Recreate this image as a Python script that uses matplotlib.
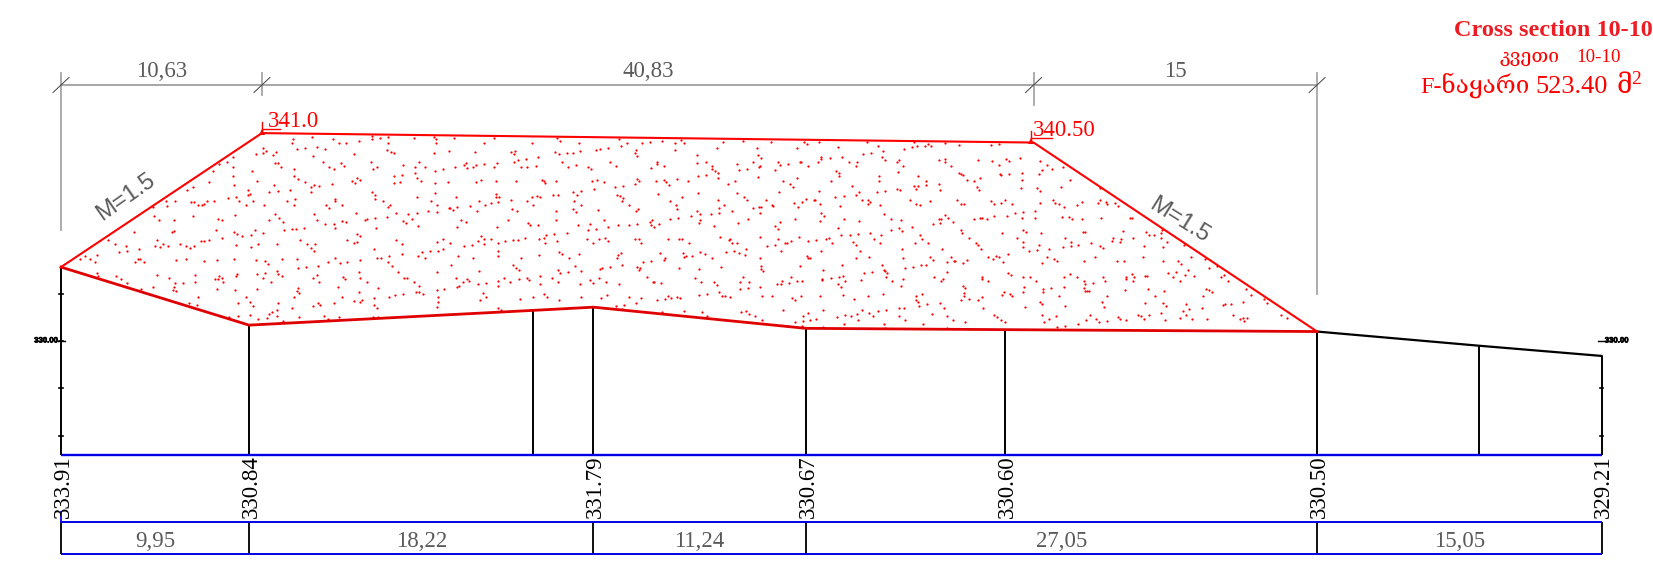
#!/usr/bin/env python3
import numpy as np
import matplotlib
matplotlib.use("Agg")
import matplotlib.pyplot as plt
import matplotlib.patheffects as pe
from matplotlib.transforms import Affine2D

SERIF = ["Liberation Serif", "DejaVu Serif", "DejaVu Sans"]

# chainage (m) and elevation (m) of the ground
ground_x = [0, 9.95, 24.97, 28.17, 39.41, 49.97, 66.46, 75.03, 81.51]
ground_y = [333.91, 330.84, 331.62, 331.79, 330.67, 330.60, 330.50, 329.75, 329.21]
# embankment top
fill_x = [0, 10.63, 51.46, 66.46]
fill_y = [333.91, 341.0, 340.5, 330.5]
# table
station_x = [0, 9.95, 28.17, 39.41, 49.97, 66.46, 81.51]
station_labels = ["333.91", "330.84", "331.79", "330.67", "330.60", "330.50", "329.21"]
table_x = [0, 9.95, 28.17, 39.41, 66.46, 81.51]
table_labels = ["9,95", "18,22", "11,24", "27,05", "15,05"]
dim_x = [0, 10.63, 51.46, 66.46]
dim_labels = ["10,63", "40,83", "15"]
scale_ticks = [332.5, 330, 327.5, 325]

# stipple dots, as (x, y) pairs in 3x crops
dots_left = [879,298, 935,290, 1000,297, 1017,310, 1038,308, 1077,302, 1116,288, 1117,298, 1140,293, 1163,291, 1163,308, 1243,294, 1301,290, 1307,298, 1307,310, 875,310, 891,326, 914,323, 952,320, 976,327,
    790,324, 797,333, 789,340, 828,336, 819,346, 767,343, 938,347, 1063,342, 1160,329, 1172,336, 1183,340, 1301,340, 700,350, 682,367, 658,372, 700,380, 640,392, 757,393, 700,408, 627,425, 578,440, 561,449,
    825,368, 835,368, 844,380, 968,367, 988,380, 1003,386, 1022,368, 1032,378, 1112,367, 1118,388, 1132,380, 1210,374, 1256,367, 1245,380, 1275,380, 1244,398, 1304,393, 881,388, 883,408, 893,417, 914,425, 1181,408, 1205,405, 1183,428, 1200,426, 1252,414, 1263,424, 1304,428, 1056,424, 1064,430, 1072,413, 1081,420, 772,424, 995,432, 932,440, 942,435, 958,437, 932,455, 702,436, 745,450, 750,462, 744,464, 823,434, 833,454, 808,457, 871,450,
    1115,455, 1124,465, 1125,477, 1250,472, 1304,460, 1293,483, 1312,494, 684,473, 709,470, 718,484, 739,496, 760,483, 793,495, 862,484, 885,478, 882,495, 1006,476, 1006,484, 1026,495, 977,495, 987,504, 1148,483, 1169,495, 1163,500,
    498,483, 643,482, 622,482, 573,485, 583,487, 595,495, 607,495, 613,491, 459,501, 500,497, 526,484,
    1285,513, 1312,517, 1189,518, 1225,521, 1250,519, 705,524, 825,522, 941,521, 1068,519, 1125,535, 1162,530, 579,528, 462,528, 477,540, 521,541, 655,536, 665,541, 808,541, 838,535, 848,546, 950,541, 975,553, 1003,552, 1027,543, 1037,546, 1096,539, 1102,537, 1210,543, 1219,550, 1237,536, 1253,559,
    1127,565, 875,566, 888,567, 913,563, 852,570, 647,570, 522,572, 517,576, 401,576, 702,577, 712,583, 727,587, 764,571, 753,584, 789,579, 1005,565, 1042,599, 1072,582, 1080,588, 1062,610, 1072,606,
    666,595, 626,600, 612,602, 603,603, 470,600, 466,617, 479,620, 490,613, 504,617, 541,611, 559,617, 570,624, 583,617, 325,600, 344,612, 379,617, 380,632, 356,636, 418,628, 708,614, 775,611, 752,622, 830,612, 900,600, 921,612, 945,612, 933,623, 942,632, 1188,599, 1205,611, 1310,605, 1313,632, 1121,627, 1290,632, 1265,635, 1253,649, 1275,655, 1205,643, 1168,648, 1130,655, 1142,654, 1006,654, 984,666, 1020,668, 1042,665, 1080,660,
    255,649, 292,646, 270,656, 285,665, 240,656, 421,656, 413,658, 432,666, 405,665, 528,660, 558,657, 611,662, 650,660, 702,657, 767,660, 795,663, 805,673, 846,657, 891,656, 895,683, 919,682, 955,677, 1165,665, 1175,678, 1195,696, 1310,695,
    771,701, 795,699, 830,692, 833,703, 845,708, 790,714, 813,727, 711,703, 707,708, 667,715, 658,708, 670,725, 654,718, 646,717, 585,706, 585,725, 470,705, 290,700, 295,708, 348,708, 362,716, 382,728, 507,715, 525,730, 548,730, 521,742, 520,750, 527,752, 938,714, 952,704, 957,727, 1028,710, 1036,718, 1076,696, 1080,714, 1100,727, 1212,714, 1222,714, 1243,727, 1256,738, 1248,757, 1258,757, 1270,763,
    459,742, 422,747, 652,747, 706,749, 770,748, 1015,742, 1134,744, 1310,749, 895,744, 890,752, 898,760, 883,771, 595,772, 739,772, 750,785, 760,798, 1077,755, 1027,770, 1123,773, 1168,771, 1186,766, 1209,762, 1313,772, 1315,785, 1063,782, 1080,785, 1085,779, 1123,795, 1131,803, 1310,800, 567,789, 590,796, 714,790, 835,790, 875,805, 938,797, 954,790, 961,795, 1001,788, 832,810, 815,815, 808,822, 750,824, 715,827, 688,832, 773,836, 800,835, 831,828, 849,842, 897,832, 972,828, 985,837, 1017,830, 1118,830, 1134,831]

dots_mid_a = [43,38, 131,54, 163,38, 275,54, 351,40, 359,47, 418,54, 538,43, 543,63, 562,53, 606,55, 630,51, 667,47, 705,53, 722,45, 731,53,
    28,78, 105,81, 212,80, 226,79, 221,87, 344,80, 358,87, 382,85, 400,84, 419,79, 468,76, 481,71, 505,68, 589,74, 584,85, 592,93, 706,75,
    295,96, 258,101, 233,104, 223,112, 79,113, 73,120, 46,127, 82,128, 99,125, 109,120, 133,117, 171,113, 163,127, 242,125, 261,125, 288,123, 366,112, 385,125, 409,121, 445,126, 454,133, 509,111, 527,122, 652,111, 651,118, 673,123, 632,129, 10,133,
    25,170, 108,170, 122,165, 169,169, 229,169, 307,166, 311,169, 315,174, 347,169, 456,168, 471,165, 493,171, 524,185, 548,182, 591,163, 598,168, 586,177, 648,168, 672,165, 679,171, 687,180, 710,161, 743,168, 461,193,
    48,215, 168,207, 167,216, 177,215, 214,226, 260,228, 277,217, 291,212, 300,215, 338,210, 355,211, 400,201, 411,210, 424,198, 403,227, 530,211, 540,213, 548,219, 547,227, 654,207, 727,216, 116,228, 152,234, 175,231, 690,227,
    29,248, 28,250, 38,255, 52,247, 89,242, 135,240, 111,259, 217,251, 232,258, 279,240, 423,240, 400,253, 409,261, 474,254, 566,239, 594,252, 588,258, 709,240, 712,253, 349,258,
    62,285, 78,292, 51,305, 170,305, 205,285, 263,294, 271,301, 294,300, 349,284, 415,299, 450,297, 443,315, 467,312, 493,285, 504,307, 533,300, 566,299, 591,296, 629,291, 636,284, 634,299, 643,307, 657,296, 691,283, 715,280, 752,274,
    124,334, 114,348, 133,342, 132,356, 154,343, 173,355, 195,348, 219,345, 235,346, 256,340, 297,343, 311,338, 319,331, 342,328, 352,347, 316,355, 380,323, 10,343, 29,355, 71,364, 95,361, 8,372, 440,342, 477,342, 460,354, 496,340, 505,348, 584,342, 598,341, 604,355, 683,343, 716,342, 727,342, 747,354,
    173,379, 173,394, 55,393, 100,400, 297,390, 243,400, 357,380, 365,387, 386,400, 417,388, 535,389, 544,384, 530,399, 659,384, 728,385, 737,393, 733,396, 757,393, 674,399, 671,404, 609,412, 633,409,
    34,419, 117,437, 219,420, 227,428, 238,435, 355,435, 361,445, 385,442, 406,424, 423,437, 479,432, 485,429, 509,425, 547,421, 590,426, 601,429, 598,434, 718,430,
    47,459, 80,461, 68,470, 88,468, 57,482, 50,486, 113,478, 137,475, 175,469, 175,483, 191,459, 211,471, 238,462, 261,459, 268,465, 299,453, 300,478, 335,458, 354,470, 421,477, 451,466, 460,474, 478,458, 497,470, 538,477, 621,457, 638,470, 641,470, 662,473, 13,491,
    129,505, 137,516, 119,525, 241,523, 280,516, 313,507, 321,515, 358,524, 424,516, 482,520, 500,510, 567,515, 603,518, 651,526, 676,522, 685,513, 693,520, 710,515, 721,519,
    175,548, 183,555, 528,543, 551,540, 589,534, 546,552, 665,562, 733,557]

dots_mid_b = [84,52, 144,48, 227,52, 328,50, 337,58, 371,52, 515,52, 429,65, 549,63, 564,78, 628,71, 652,67, 667,64, 689,62, 700,56, 709,64, 658,50, 751,54, 67,70, 187,69, 305,69,
    6,90, 190,91, 199,99, 377,95, 379,103, 404,100, 441,96, 503,87, 527,84, 562,97, 570,104, 605,110, 612,106, 733,105, 749,101, 749,110,
    7,115, 32,111, 51,123, 52,132, 61,139, 69,144, 125,117, 131,136, 155,132, 175,111, 194,124, 192,127, 249,112, 255,120, 280,117, 316,111, 319,111, 338,123, 369,111, 462,110, 487,111, 482,123, 625,123, 769,122, 239,135,
    8,153, 32,150, 69,159, 189,157, 307,158, 423,138, 432,145, 432,154, 552,153, 610,141, 670,153,
    100,176, 121,168, 265,168, 284,177, 293,186, 408,168, 472,182, 551,167, 694,167, 694,181, 656,183, 669,184, 664,191, 731,176, 736,194, 607,192, 614,195,
    10,204, 127,205, 146,217, 155,226, 69,226, 88,239, 72,248, 212,226, 252,201, 298,234, 322,230, 334,223, 356,225, 359,225, 373,199, 375,238, 310,247, 232,239, 235,242, 193,246, 198,246, 174,250, 421,216, 446,213, 435,243, 483,209, 491,200, 500,226, 518,224, 526,231, 519,238, 547,201, 571,198, 555,241, 644,225, 662,238, 674,241, 705,228,
    7,258, 16,267, 49,266, 73,263, 111,258, 194,263, 379,264, 388,272, 566,268,
    14,284, 13,294, 56,302, 130,294, 158,283, 255,290, 241,304, 249,313, 301,283, 376,288, 446,283, 493,288, 589,282, 618,285, 650,306, 713,298, 733,282, 739,282, 736,295, 759,278, 751,270, 774,290, 428,309, 589,315, 612,310, 620,318,
    74,337, 102,345, 106,342, 110,353, 125,354, 195,336, 250,342, 216,363, 241,360, 269,354, 277,355, 289,349, 313,336, 340,348, 364,344, 393,342, 402,339, 412,354, 438,331, 464,330, 488,327, 526,323, 536,341, 559,330, 473,351, 482,359, 556,353, 676,330, 680,341, 661,355, 700,353,
    15,382, 29,388, 92,380, 116,377, 133,383, 154,372, 151,390, 258,379, 379,377, 335,392, 339,398, 344,398, 52,399, 195,398, 496,378, 482,398, 522,395, 620,373, 625,398, 742,372, 706,396, 715,405, 755,411, 769,397, 778,408,
    12,431, 77,426, 198,424, 197,432, 205,439, 316,424, 384,436, 440,420, 561,419, 568,436, 570,438, 576,445, 507,444, 531,441, 631,428, 655,425, 679,420, 692,420, 755,441,
    0,458, 18,471, 58,472, 67,480, 143,457, 136,472, 163,470, 287,457, 260,467, 245,476, 259,477, 283,474, 307,469, 320,469, 382,461, 381,466, 407,458, 431,457, 444,453, 450,469, 430,478, 438,486, 499,466, 574,457, 592,468, 623,462, 617,482, 718,456, 745,461, 737,468,
    134,493, 158,490, 196,486, 72,502, 11,510, 35,507, 81,514, 89,514, 106,517, 201,513, 232,514, 291,518, 299,526, 319,513, 376,514, 443,509, 478,522, 520,514, 564,507, 662,513, 682,508, 662,524, 670,531, 697,538, 673,542, 734,534,
    21,560, 37,573, 139,560, 152,559, 161,566, 181,573, 200,585, 264,556, 340,563, 324,573, 325,588, 344,585, 362,582, 301,591, 384,554, 425,575, 449,571, 467,572, 487,566, 502,555, 523,564, 533,573, 550,558, 574,555, 611,550, 626,550, 611,572, 631,584, 488,585, 446,598, 567,596, 685,597, 712,568, 747,549, 755,572, 774,584, 322,603, 385,605, 571,609, 757,609]

dots_right = [26,284, 122,284, 148,282, 85,330, 127,334, 168,326, 176,334, 210,325, 147,346, 270,334, 290,346, 305,356, 275,360, 268,372, 28,368, 38,375, 32,373, 52,389, 73,392, 91,384, 151,372, 153,376, 177,373, 215,370, 217,390, 213,413, 80,410, 88,419, 262,413, 270,422, 338,352, 361,391, 333,412, 450,415,
    22,450, 33,462, 41,462, 123,454, 131,461, 153,460, 164,451, 185,462, 270,460, 308,450, 315,460, 327,461, 343,470, 380,465, 395,456, 443,458, 451,449, 468,455, 471,462, 495,460, 505,467, 256,482, 219,486, 195,490, 254,505, 217,505,
    72,506, 90,505, 95,503, 110,506, 133,497, 172,497, 336,501, 356,500, 366,508, 397,506, 453,503, 541,505, 545,503,
    34,540, 36,550, 157,548, 218,540, 227,547, 273,550, 58,564, 78,578, 84,585, 94,596, 201,565, 220,577, 218,592, 266,585, 237,604, 262,600, 298,596, 340,590, 345,565, 363,577, 385,585, 362,587, 423,578, 400,545, 405,545, 451,587, 460,595, 487,573, 490,565, 509,576, 512,567, 520,544, 548,563, 589,545, 598,555, 611,555, 637,541, 634,550, 633,564, 651,577, 581,587, 639,591, 703,584,
    15,632, 38,639, 52,629, 114,620, 128,626, 137,617, 148,622, 160,637, 175,612, 292,622, 277,638, 312,627, 322,634, 402,633, 435,621, 500,632, 523,632, 578,621, 640,632, 722,620, 685,633, 692,643, 764,627, 778,654, 800,648,
    174,668, 183,676, 96,681, 97,686, 115,692, 220,681, 240,681, 258,692, 342,680, 361,672, 382,681, 402,692, 404,703, 429,698, 460,681, 465,694, 527,681, 528,686, 546,673, 552,680, 548,692, 585,677, 590,678, 653,669, 677,665, 669,680, 689,692, 705,675, 715,660, 732,677, 823,675, 812,680, 834,693,
    38,708, 44,714, 41,730, 41,738, 32,750, 57,746, 95,741, 85,750, 161,726, 156,735, 181,731, 185,737, 222,712, 218,725, 280,717, 280,727, 304,714, 342,710, 328,738, 403,713, 410,722, 417,722, 405,722, 472,738, 524,721, 594,717, 643,722, 616,737, 767,717, 778,720, 787,727, 760,737, 887,716, 903,736,
    100,773, 225,770, 270,756, 277,762, 345,768, 455,757, 463,770, 586,760, 640,760, 649,768, 708,763, 718,778, 698,782, 756,773, 818,765, 826,763, 843,762, 880,757, 943,748, 950,759,
    132,795, 140,800, 152,810, 165,815, 277,795, 296,808, 318,799, 283,815, 45,815, 322,830, 346,827, 385,823, 408,810, 420,796, 439,808, 446,815, 470,812, 503,801, 510,808, 528,810, 563,795, 572,798, 582,808, 596,796, 632,790, 646,810, 690,803, 707,795, 725,808, 770,806, 850,795, 870,806, 880,805, 892,803, 882,813, 993,795, 1010,805]

PX_PER_M = 18.9
X0_PX, Y330_PX = 61, 341
W, H = 1653, 563
RED, BLUE, GREY, DARK = "#ff0000", "#0000e6", "#a6a6a6", "#5a5a5a"


def ey(py):
    return 330 + (Y330_PX - py) / PX_PER_M


def crop_dots(flat, ox, oy):
    a = np.array(flat, dtype=float).reshape(-1, 2)
    return (ox + a[:, 0] / 3 - X0_PX) / PX_PER_M, ey(oy + a[:, 1] / 3)


def main():
    fig = plt.figure(figsize=(W / 100, H / 100), dpi=100)
    ax = fig.add_axes([0, 0, 1, 1])
    ax.set_xlim(-X0_PX / PX_PER_M, (W - X0_PX) / PX_PER_M)
    ax.set_ylim(ey(H), ey(0))
    ax.axis("off")
    # sheet pixels, y down, for the annotations
    sheet = Affine2D().scale(1, -1).translate(0, H)

    base = ey(455)
    # verticals down to the baseline
    for x, y in zip(ground_x, ground_y):
        ax.plot([x, x], [base, y], color="black", lw=1.4, solid_capstyle="butt")
    ax.plot(ground_x[6:], ground_y[6:], color="black", lw=1.6)
    for y in scale_ticks:
        ax.plot([-0.1, 0.1], [y, y], color="black", lw=1.2)
    for y in scale_ticks[2:]:
        ax.plot([81.41, 81.61], [y, y], color="black", lw=1.2)
    ax.plot([-0.14, 0.2], [330, 330], color="black", lw=1)
    ax.plot([81.3, 81.67], [330, 330], color="black", lw=1)
    heavy = [pe.withStroke(linewidth=0.5, foreground="black")]
    ax.text(-0.17, 330, "330.00", fontsize=5.6, fontweight="bold", family="Liberation Sans",
            ha="right", va="center", color="black", path_effects=heavy)
    ax.text(81.68, 330, "330.00", fontsize=5.6, fontweight="bold", family="Liberation Sans",
            ha="left", va="center", color="black", path_effects=heavy)

    # blue baseline and table
    ax.plot([0, ground_x[-1]], [base, base], color=BLUE, lw=1.7, solid_capstyle="butt")
    t_top, t_bot = ey(522), ey(554)
    for x in table_x:
        ax.plot([x, x], [t_bot, t_top], color="#101010", lw=1.4, solid_capstyle="butt")
    ax.plot([0, 0], [t_top, ey(512)], color=BLUE, lw=1.3)
    for y in (t_top, t_bot):
        ax.plot([0, table_x[-1]], [y, y], color=BLUE, lw=1.4, solid_capstyle="butt")
    for left, right, lab in zip(table_x[:-1], table_x[1:], table_labels):
        ax.text((left + right) / 2, ey(547), lab, fontsize=16.5, family=SERIF, color=DARK,
                ha="center", va="baseline")
    for x, lab in zip(station_x, station_labels):
        ax.text(x + 0.12, ey(518), lab, fontsize=16.5, family=SERIF, color="black", rotation=90,
                ha="center", va="bottom")

    # dimensions above the section
    dim_y = ey(85)
    ax.plot([dim_x[0], dim_x[-1]], [dim_y, dim_y], color=GREY, lw=1.4)
    ext_ends = [230, 95, 105, 294]
    for x, end in zip(dim_x, ext_ends):
        ax.plot([x, x], [ey(73), ey(end)], color=GREY, lw=1.3)
        ax.plot([x - 8 / PX_PER_M, x + 8 / PX_PER_M], [ey(92.5), ey(77.5)], color="#404040", lw=0.7)
    for left, right, lab in zip(dim_x[:-1], dim_x[1:], dim_labels):
        ax.text((left + right) / 2, ey(77), lab, fontsize=16.5, family=SERIF, color=DARK,
                ha="center", va="baseline")

    # embankment
    for flat, ox, oy in ((dots_left, 0, 40), (dots_mid_a, 440, 125), (dots_mid_b, 695, 125), (dots_right, 950, 50)):
        dx, dy = crop_dots(flat, ox, oy)
        ax.scatter(dx, dy, s=2.6, color=RED, linewidths=0, zorder=3)
    ax.plot(ground_x[:7], ground_y[:7], color="#e00000", lw=2.0, zorder=4, solid_joinstyle="miter")
    ax.plot(fill_x, fill_y, color=RED, lw=1.5, zorder=4)

    # level marks
    ax.plot([262, 280], [129, 129], color=RED, lw=1, transform=sheet)
    ax.plot([262, 262], [122, 132], color=RED, lw=1, transform=sheet)
    ax.plot([1031, 1052], [138, 138], color=RED, lw=1, transform=sheet)
    ax.plot([1031, 1031], [131, 141], color=RED, lw=1, transform=sheet)
    ax.plot([262, 1031], [132, 141], ls="", marker="^", ms=4, mew=0, color=RED, transform=sheet)
    ax.text(268, 127, "341.0", fontsize=16.5, family=SERIF, color=RED, transform=sheet, va="baseline")
    ax.text(1033, 136, "340.50", fontsize=16.5, family=SERIF, color=RED, transform=sheet, va="baseline")

    # slopes
    ax.text(126, 197, "M=1.5", fontsize=17, family="Liberation Sans", color=DARK, rotation=35,
            ha="center", va="center", transform=sheet, rotation_mode="anchor")
    ax.text(1179, 220, "M=1.5", fontsize=17, family="Liberation Sans", color=DARK, rotation=-32,
            ha="center", va="center", transform=sheet, rotation_mode="anchor")

    # title block
    ax.text(1553, 36, "Cross section 10-10", fontsize=17.5, fontweight="bold", family=SERIF,
            color="#ed1c24", ha="center", va="baseline", transform=sheet)
    ax.text(1560, 62, "კვეთი", fontsize=14, family=SERIF, color=RED, ha="right",
            va="baseline", transform=sheet)
    ax.text(1576, 62, "10-10", fontsize=13.6, family=SERIF, color=RED, ha="left",
            va="baseline", transform=sheet)
    ax.text(1420, 93, "F-ნაყარი", fontsize=17.5, family=SERIF, color=RED, ha="left",
            va="baseline", transform=sheet)
    ax.text(1535, 93, "523.40", fontsize=19, family=SERIF, color=RED, ha="left",
            va="baseline", transform=sheet)
    ax.text(1617, 93, "მ", fontsize=19, family=SERIF, color=RED, ha="left",
            va="baseline", transform=sheet)
    ax.text(1631, 84, "2", fontsize=14, family=SERIF, color=RED, ha="left", va="baseline",
            transform=sheet)

    fig.savefig("out.png", dpi=100, facecolor="white")


if __name__ == "__main__":
    main()
